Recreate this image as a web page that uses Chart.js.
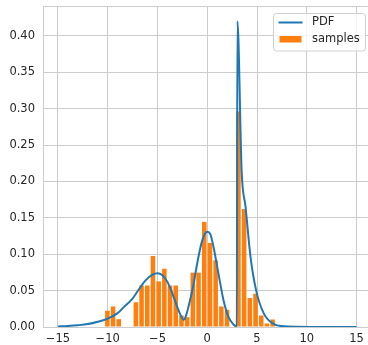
<!DOCTYPE html>
<html>
<head>
<meta charset="utf-8">
<script src="https://cdn.jsdelivr.net/npm/chart.js@4/dist/chart.umd.min.js"></script>
<style>
  html, body { margin: 0; padding: 0; background: #fff; overflow: hidden; }
</style>
</head>
<body>
<canvas id="myChart" width="368" height="345"></canvas>
<script>
// histogram bins (centres) and density heights
const binCenters = [-10.034, -9.461, -8.889, -8.316, -7.744, -7.171, -6.599, -6.026, -5.454, -4.881,
                    -4.309, -3.736, -3.164, -2.591, -2.019, -1.446, -0.874, -0.301, 0.271, 0.844,
                    1.416, 1.989, 2.561, 3.134, 3.706, 4.279, 4.851, 5.424, 5.996, 6.569];
const sampleDensity = [0.0223, 0.0282, 0.0108, 0, 0, 0.034, 0.057, 0.057, 0.0975, 0.0627,
                       0.080, 0.057, 0.057, 0.0158, 0.0135, 0.0747, 0.0747, 0.1444, 0.1155, 0.0916,
                       0.0282, 0.0237, 0, 0.296, 0.162, 0.0397, 0.0457, 0.0158, 0.0048, 0.0103];

// pdf curve
const pdfX = [-15, -14, -13, -12, -11, -10, -9, -8.4, -7.5, -7.2, -6.7, -6.2, -5.5, -5, -4.5, -4, -3.5, -3,
              -2.7, -2.35, -2.1, -1.9, -1.4, -1, -0.5, 0, 0.3, 0.63, 1.13, 1.64, 2.14, 2.64, 2.97,
              3.03, 3.46, 3.85, 4.35, 4.9, 5.7, 6.7, 7.7, 9, 11, 13, 15];
const pdfY = [0.0008, 0.0014, 0.0024, 0.004, 0.0072, 0.0116, 0.019, 0.027, 0.039, 0.045, 0.055, 0.064, 0.072, 0.074, 0.071, 0.062, 0.046, 0.027,
              0.017, 0.0098, 0.017, 0.027, 0.057, 0.088, 0.119, 0.131, 0.128, 0.110, 0.073, 0.0365, 0.0135, 0.0034, 0.0005,
              0.42, 0.213, 0.165, 0.096, 0.051, 0.018, 0.004, 0.001, 0.0002, 0, 0, 0];

const textColor = '#262626';
const gridColor = '#cccccc';
const font = { family: 'DejaVu Sans', size: 11.5 };

const minus = (v) => v < 0 ? '\u2212' + Math.abs(v) : String(v);

// top spine + legend with a frame
const frameAndLegend = {
    id: 'frameAndLegend',
    afterDraw(chart) {
        const { ctx, chartArea } = chart;
        ctx.save();
        ctx.strokeStyle = gridColor;
        ctx.lineWidth = 1;
        ctx.beginPath();
        ctx.moveTo(chartArea.left, chartArea.top + 0.5);
        ctx.lineTo(chartArea.right, chartArea.top + 0.5);
        ctx.stroke();

        ctx.beginPath();
        ctx.roundRect(273.5, 13.5, 92, 37.5, 3);
        ctx.fillStyle = 'rgba(255,255,255,0.8)';
        ctx.fill();
        ctx.strokeStyle = '#d0d0d0';
        ctx.stroke();

        const ds = chart.data.datasets;
        // line handle
        ctx.strokeStyle = ds[0].borderColor;
        ctx.lineWidth = 2;
        ctx.beginPath();
        ctx.moveTo(278.5, 22.5);
        ctx.lineTo(302.5, 22.5);
        ctx.stroke();
        // patch handle
        ctx.fillStyle = ds[1].backgroundColor;
        ctx.fillRect(279.5, 36, 22, 6.5);

        ctx.font = '11.5px "DejaVu Sans"';
        ctx.fillStyle = textColor;
        ctx.textBaseline = 'middle';
        ctx.fillText(ds[0].label, 312, 22.5);
        ctx.fillText(ds[1].label, 312, 39.5);
        ctx.restore();
    }
};

const ctx = document.getElementById('myChart').getContext('2d');
const myChart = new Chart(ctx, {
    type: 'bar',
    data: {
        datasets: [{
            type: 'line',
            label: 'PDF',
            data: pdfX.map((x, i) => ({ x: x, y: pdfY[i] })),
            borderColor: '#1f77b4',
            borderWidth: 2,
            borderJoinStyle: 'round',
            pointRadius: 0,
            cubicInterpolationMode: 'monotone',
            fill: false
        }, {
            type: 'bar',
            label: 'samples',
            data: binCenters.map((x, i) => ({ x: x, y: sampleDensity[i] })),
            backgroundColor: '#ff7f0e',
            borderWidth: 0,
            barPercentage: 0.8,
            categoryPercentage: 1
        }]
    },
    options: {
        responsive: false,
        animation: false,
        layout: { padding: { top: 6, left: 0, right: 0, bottom: 0 } },
        plugins: {
            legend: { display: false },
            tooltip: { enabled: false }
        },
        scales: {
            x: {
                type: 'linear',
                min: -16.5,
                max: 16.15,
                offset: false,
                grid: { color: gridColor, drawTicks: false, offset: false },
                border: { color: gridColor },
                ticks: {
                    stepSize: 5,
                    includeBounds: false,
                    color: textColor,
                    font: font,
                    padding: 5,
                    maxRotation: 0,
                    callback: (v) => minus(v)
                },
                afterFit: (s) => { s.height = 18; s.paddingLeft = 0; s.paddingRight = 0; }
            },
            y: {
                min: 0,
                max: 0.441,
                grid: { color: gridColor, drawTicks: false },
                border: { color: gridColor },
                ticks: {
                    stepSize: 0.05,
                    includeBounds: false,
                    color: textColor,
                    font: font,
                    padding: 8,
                    callback: (v) => v.toFixed(2)
                },
                afterFit: (s) => { s.width = 43; s.paddingTop = 0; s.paddingBottom = 0; }
            }
        }
    },
    plugins: [frameAndLegend]
});
</script>
</body>
</html>
